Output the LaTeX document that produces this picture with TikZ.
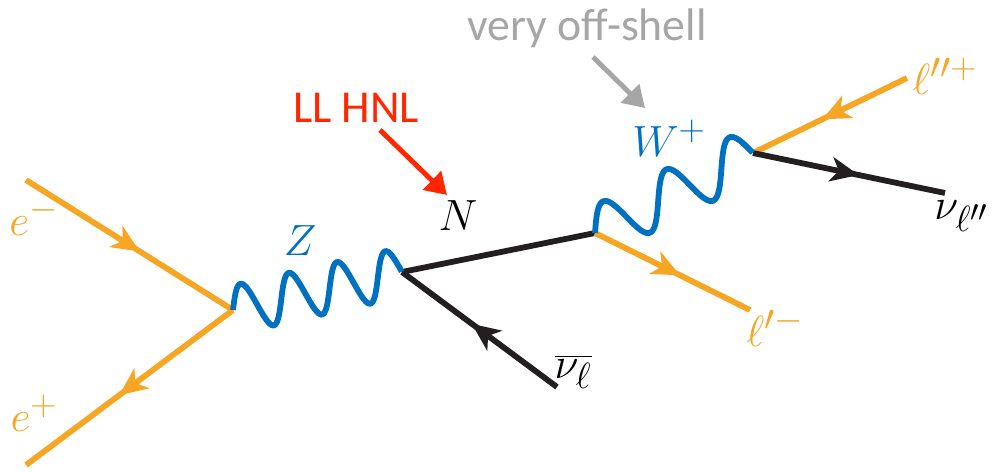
\documentclass[tikz,border=0pt]{standalone}
\usepackage{fontspec}
\newfontfamily\calibfont{Carlito}
\usetikzlibrary{arrows.meta,decorations.markings,calc}

\definecolor{lepton}{RGB}{246,166,35}
\definecolor{boson}{RGB}{0,112,192}
\definecolor{hnlred}{RGB}{255,38,0}
\definecolor{shellgray}{RGB}{166,166,166}
\definecolor{nuline}{RGB}{35,31,32}

\begin{document}
\begin{tikzpicture}[x=0.02cm,y=-0.02cm,>=Latex,
  fermion/.style={draw=#1,line width=3.3pt,postaction={decorate},
    decoration={markings,mark=at position 0.55 with {\arrow[#1]{Stealth[length=16pt,width=14pt,inset=4.5pt]}}}},
  photon/.style n args={2}{draw=boson,line width=3.3pt,to path={
    let \p1=(\tikztostart),\p2=(\tikztotarget) in
    plot[variable=\t,domain=0:1,samples=140,smooth]
      ({\x1+(\x2-\x1)*\t-#2*sin(\t*#1*180)},{\y1+(\y2-\y1)*\t+13.4pt*sin(\t*#1*180)})}},
  lbl/.style={inner sep=0pt,font=\Huge},
  note/.style={font=\calibfont\fontsize{26}{30}\selectfont,anchor=base,inner sep=0pt},
  pointer/.style={draw=#1,line width=2.8pt,-{Triangle[length=12pt,width=14.5pt]}}]
\useasboundingbox (0,0) rectangle (992,471);

% vertices and external legs
\coordinate (em) at (26,180);
\coordinate (ep) at (26,465);
\coordinate (v1) at (233,310);
\coordinate (v2) at (402,272);
\coordinate (nubar) at (557,387);
\coordinate (v3) at (595,233);
\coordinate (lp) at (750,310);
\coordinate (v4) at (753,153);
\coordinate (lpp) at (907,78);
\coordinate (nupp) at (945,193);

% fermion lines
\draw[fermion=lepton] (em) -- (v1);
\draw[fermion=lepton] (v1) -- (ep);
\draw[fermion=nuline] (nubar) -- (v2);
\draw[draw=nuline,line width=3.3pt] (v2) -- (v3);
\draw[fermion=lepton] (v3) -- (lp);
\draw[fermion=lepton] (lpp) -- (v4);
\draw[fermion=nuline] (v4) -- (nupp);

% bosons
\draw[photon={7}{2.6pt}] (v1) to (v2);
\draw[photon={5}{4.5pt}] (v3) to (v4);

% labels
\node[lbl,text=lepton] (eml) at (34,217) {$e^-$};
\node[lbl,text=lepton] (epl) at (34,413) {$e^+$};
\node[lbl,text=boson] (zl) at (300,241) {$Z$};
\node[lbl] (nl) at (458,216) {$N$};
\node[lbl] (nubarl) at (573,372) {$\overline{\nu_\ell}$};
\node[lbl,text=boson] (wl) at (669,138) {$W^+$};
\node[lbl,text=lepton] (lpl) at (775,328) {$\ell'^-$};
\node[lbl,text=lepton] (lppl) at (945,76) {$\ell''^+$};
\node[lbl,anchor=west] (nuppl) at (934,216) {$\nu_{\ell''}$};

% annotations
\node[note,text=hnlred] (hnl) at (356,122.7) {LL HNL};
\node[note,text=shellgray] (offshell) at (587,40) {very off-shell};
\coordinate (hnlfrom) at (380,130);
\coordinate (hnlto) at (447,195);
\coordinate (shellfrom) at (593,57);
\coordinate (shellto) at (645,108);
\draw[pointer=hnlred] (hnlfrom) -- (hnlto);
\draw[pointer=shellgray] (shellfrom) -- (shellto);
\end{tikzpicture}
\end{document}
